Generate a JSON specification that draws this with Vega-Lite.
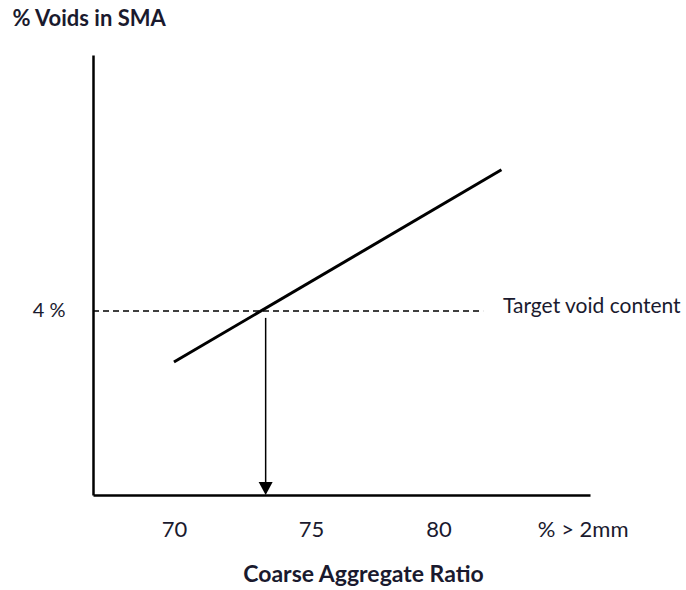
{
  "$schema": "https://vega.github.io/schema/vega-lite/v6.json",
  "autosize": "none",
  "width": 497,
  "height": 440,
  "padding": {"left": 93, "top": 55, "right": 96, "bottom": 95},
  "background": "white",
  "config": {
    "view": {"stroke": null},
    "font": "Lato",
    "axis": {"grid": false, "ticks": false, "domainColor": "#000", "domainWidth": 2.5, "labelColor": "#1a1a2e", "titleColor": "#1a1a2e", "labelFont": "Lato", "titleFont": "Lato"}
  },
  "datasets": {
    "trend": [{"ratio": 70, "voids": 2.89}, {"ratio": 82.5, "voids": 7.07}],
    "target": [{"ratio": 66.91, "voids": 4}, {"ratio": 81.8, "voids": 4}],
    "arrow": [{"ratio": 73.5, "voids": 3.85, "voids2": 0.25}],
    "tip": [{"ratio": 73.5, "voids": 0}],
    "label": [{"ratio": 82.56, "voids": 4, "text": "Target void content"}]
  },
  "layer": [
    {
      "data": {"name": "target"},
      "mark": {"type": "line", "color": "#000", "strokeWidth": 1.3, "strokeDash": [6, 4]},
      "encoding": {
        "x": {"field": "ratio", "type": "quantitative", "scale": {"domain": [66.91, 85.88], "nice": false, "zero": false},
          "axis": {"values": [70, 75.23, 80.1, 85.6], "labelExpr": "datum.value > 85 ? '% > 2mm' : (datum.value > 75 && datum.value < 76 ? '75' : (datum.value > 80 && datum.value < 81 ? '80' : datum.label))", "labelFlush": false, "labelOverlap": false, "labelPadding": 24, "labelFontSize": 22, "title": "Coarse Aggregate Ratio", "titleFontSize": 23, "titleFontWeight": "bold", "titleX": 270, "titleY": 79, "titleBaseline": "middle"}},
        "y": {"field": "voids", "type": "quantitative", "scale": {"domain": [0, 9.565], "nice": false},
          "axis": {"values": [4], "labelExpr": "'4 %'", "labelPadding": 28, "labelFontSize": 20, "title": "% Voids in SMA", "titleAngle": 0, "titleAlign": "left", "titleBaseline": "middle", "titleX": -81, "titleY": -37, "titleFontSize": 22, "titleFontWeight": "bold"}}
      }
    },
    {
      "data": {"name": "trend"},
      "mark": {"type": "line", "color": "#000", "strokeWidth": 3},
      "encoding": {
        "x": {"field": "ratio", "type": "quantitative"},
        "y": {"field": "voids", "type": "quantitative"}
      }
    },
    {
      "data": {"name": "arrow"},
      "mark": {"type": "rule", "color": "#000", "strokeWidth": 1.5},
      "encoding": {
        "x": {"field": "ratio", "type": "quantitative"},
        "y": {"field": "voids", "type": "quantitative"},
        "y2": {"field": "voids2"}
      }
    },
    {
      "data": {"name": "tip"},
      "mark": {"type": "point", "shape": "M-1,-1.86L1,-1.86L0,0Z", "filled": true, "color": "#000", "opacity": 1, "size": 196},
      "encoding": {
        "x": {"field": "ratio", "type": "quantitative"},
        "y": {"field": "voids", "type": "quantitative"}
      }
    },
    {
      "data": {"name": "label"},
      "mark": {"type": "text", "align": "left", "baseline": "middle", "fontSize": 21, "color": "#1a1a2e", "dy": -4},
      "encoding": {
        "x": {"field": "ratio", "type": "quantitative"},
        "y": {"field": "voids", "type": "quantitative"},
        "text": {"field": "text"}
      }
    }
  ]
}
